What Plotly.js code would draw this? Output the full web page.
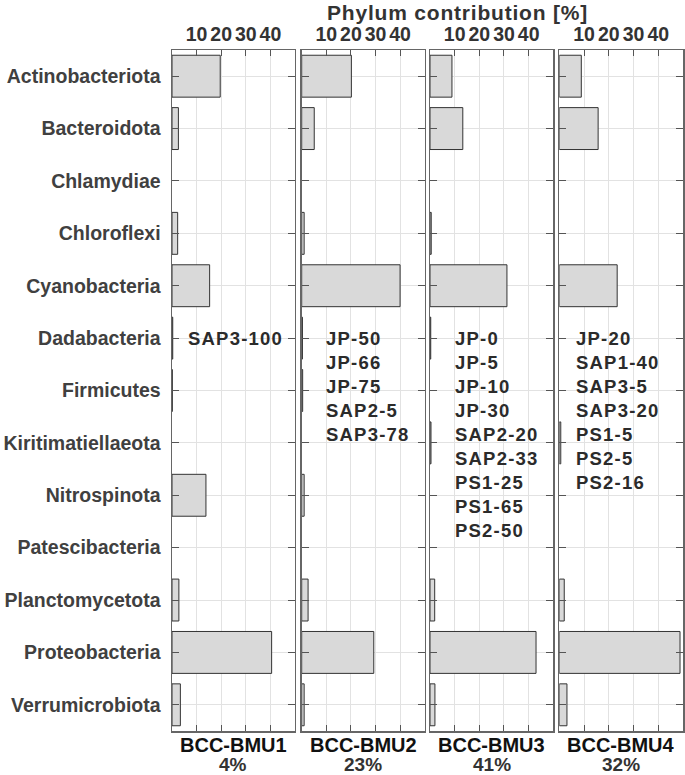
<!DOCTYPE html>
<html>
<head>
<meta charset="utf-8">
<script src="https://cdn.plot.ly/plotly-3.0.1.min.js"></script>
<style>
  html, body { margin: 0; padding: 0; background: #fff; }
  #chart { width: 685px; height: 775px; }
</style>
</head>
<body>
<div id="chart"></div>
<script>
let phyla = ["Actinobacteriota", "Bacteroidota", "Chlamydiae", "Chloroflexi", "Cyanobacteria",
    "Dadabacteria", "Firmicutes", "Kiritimatiellaeota", "Nitrospinota", "Patescibacteria",
    "Planctomycetota", "Proteobacteria", "Verrumicrobiota"];

let bmu1 = [19.6, 2.6, 0, 2.3, 15.3, 0.3, 0.1, 0, 13.8, 0, 2.8, 40.5, 3.4];
let bmu2 = [20.2, 5.1, 0, 1.0, 40.0, 0.3, 0.4, 0, 1.0, 0, 2.6, 29.3, 1.0];
let bmu3 = [8.9, 13.3, 0, 0.5, 31.2, 0.3, 0, 0.4, 0, 0, 1.9, 43.0, 2.0];
let bmu4 = [8.9, 15.7, 0, 0, 23.4, 0, 0, 0.6, 0, 0, 2.0, 48.8, 3.1];

let bmuNames = ["BCC-BMU1", "BCC-BMU2", "BCC-BMU3", "BCC-BMU4"];
let bmuShares = ["4%", "23%", "41%", "32%"];

let samples1 = ["SAP3-100"];
let samples2 = ["JP-50", "JP-66", "JP-75", "SAP2-5", "SAP3-78"];
let samples3 = ["JP-0", "JP-5", "JP-10", "JP-30", "SAP2-20", "SAP2-33", "PS1-25", "PS1-65", "PS2-50"];
let samples4 = ["JP-20", "SAP1-40", "SAP3-5", "SAP3-20", "PS1-5", "PS2-5", "PS2-16"];

let xTicks = [10, 20, 30, 40];

let allValues = [bmu1, bmu2, bmu3, bmu4];
let allSamples = [samples1, samples2, samples3, samples4];
let sampleX = [5.7, 9.0, 9.5, 6.0]; // where the sample list starts, in %
let domains = [[0, 0.2407], [0.2538, 0.4945], [0.5049, 0.7462], [0.7579, 1]];

const fontFam = "Liberation Sans, Arial, sans-serif";

// empty phyla get no bar at all (not even an outline)
function noZeros(arr){
    return arr.map(v => v === 0 ? null : v);
}

function spaced(txt, px){
    return '<span style="letter-spacing:' + px + 'px">' + txt + '</span>';
}

let data = [];
let layout = {
    width: 685,
    height: 775,
    margin: {l: 172, r: 2, t: 50, b: 44},
    paper_bgcolor: "#fff",
    plot_bgcolor: "#fff",
    showlegend: false,
    font: {family: fontFam, size: 19, color: "#333", weight: "bold"},
    annotations: []
};

for (let i = 0; i < 4; i++){
    let n = i === 0 ? "" : String(i + 1);
    data.push({
        type: "bar",
        orientation: "h",
        x: noZeros(allValues[i]),
        y: phyla,
        xaxis: "x" + n,
        yaxis: "y" + n,
        width: 0.8,
        marker: {color: "#d9d9d9", line: {color: "#333", width: 1}},
        hoverinfo: "x+y"
    });

    layout["xaxis" + n] = {
        domain: domains[i],
        anchor: "y" + n,
        range: [0, 50],
        side: "top",
        tickmode: "array",
        tickvals: xTicks,
        ticks: "inside",
        ticklen: 6,
        tickcolor: "#555",
        tickfont: {family: fontFam, size: 19.5, color: "#333", weight: "bold"},
        showgrid: true,
        gridcolor: "#e2e2e2",
        zeroline: false,
        showline: true,
        linecolor: "#666",
        linewidth: 1.5,
        mirror: "ticks",
        fixedrange: true
    };

    layout["yaxis" + n] = {
        anchor: "x" + n,
        type: "category",
        categoryorder: "array",
        categoryarray: phyla,
        range: [12.5, -0.5],
        ticks: "inside",
        ticklen: 7,
        tickcolor: "#555",
        showticklabels: i === 0,
        ticklabelstandoff: 6,
        tickfont: {family: fontFam, size: 19.5, color: "#404040", weight: "bold"},
        showgrid: true,
        gridcolor: "#e2e2e2",
        zeroline: false,
        showline: true,
        linecolor: "#666",
        linewidth: 1.5,
        mirror: "ticks",
        fixedrange: true
    };
    if (i > 0) layout["yaxis" + n].matches = "y";

    // sample lists inside each panel
    layout.annotations.push({
        xref: "x" + n, yref: "y" + n,
        x: sampleX[i], y: "Dadabacteria",
        xanchor: "left", yanchor: "top", yshift: 12,
        align: "left",
        showarrow: false,
        text: allSamples[i].map(s => spaced(s, 1.2)).join("<br>"),
        font: {family: fontFam, size: 18.5, color: "#2b2b2b", weight: "bold"}
    });

    // panel labels at the bottom
    let mid = (domains[i][0] + domains[i][1]) / 2;
    layout.annotations.push({
        xref: "paper", yref: "paper", x: mid, y: -0.0206,
        xanchor: "center", yanchor: "middle", showarrow: false,
        text: bmuNames[i],
        font: {family: fontFam, size: 20, color: "#111", weight: "bold"}
    });
    layout.annotations.push({
        xref: "paper", yref: "paper", x: mid, y: -0.0499,
        xanchor: "center", yanchor: "middle", showarrow: false,
        text: bmuShares[i],
        font: {family: fontFam, size: 19, color: "#333", weight: "bold"}
    });
}

layout.annotations.push({
    xref: "paper", yref: "paper", x: 0.558, y: 1.0558,
    xanchor: "center", yanchor: "middle", showarrow: false,
    text: spaced("Phylum contribution [%]", 0.8),
    font: {family: fontFam, size: 21, color: "#333", weight: "bold"}
});

const config = {
    displayModeBar: false,
    staticPlot: true
};

Plotly.newPlot("chart", data, layout, config);
</script>
</body>
</html>
